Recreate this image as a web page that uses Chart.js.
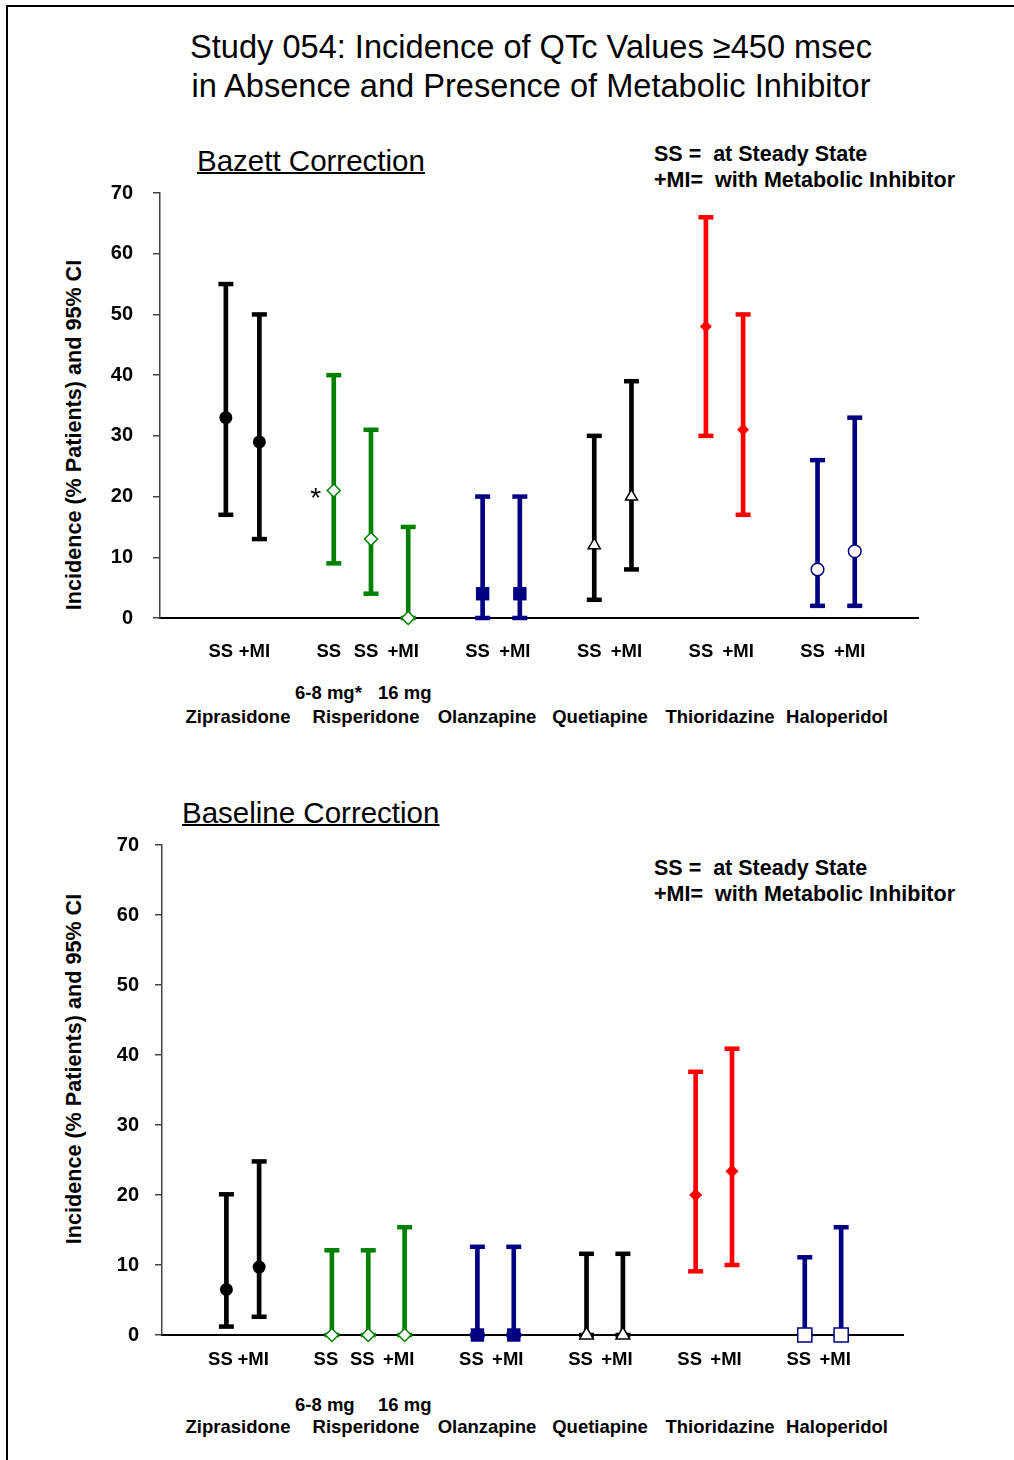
<!DOCTYPE html>
<html lang="en">
<head>
<meta charset="UTF-8">
<title>Study 054: Incidence of QTc Values ≥450 msec</title>
<script src="https://cdn.jsdelivr.net/npm/chart.js"></script>
<style>
  html, body { margin: 0; padding: 0; background: #fff; }
  body { font-family: 'Liberation Sans', Arial, sans-serif; color: #000; }
  .page { position: relative; width: 1014px; height: 1460px; overflow: hidden; }
  .frame { position: absolute; left: 6px; top: 5px; width: 1010px; height: 1460px;
           border-left: 2px solid #000; border-top: 2px solid #000; }
  .txt { position: absolute; line-height: 1; white-space: nowrap; }
  .title { font-size: 32.6px; left: 531px; transform: translateX(-50%); }
  .heading { font-size: 29.5px; text-decoration: underline; text-decoration-thickness: 2px; }
  .note { font-size: 21.5px; font-weight: bold; left: 654px; }
  .ytitle { font-size: 21.6px; font-weight: bold; left: 74px;
            transform: translate(-50%, -50%) rotate(-90deg); }
  .dose, .drug { font-size: 18.5px; font-weight: bold; }
  .drug { transform: translateX(-50%); }
  canvas { position: absolute; left: 0; }
</style>
</head>
<body>
<div class="page">
  <div class="frame"></div>

  <div class="txt title" style="top:31px">Study 054: Incidence of QTc Values ≥450 msec</div>
  <div class="txt title" style="top:70px">in Absence and Presence of Metabolic Inhibitor</div>

  <!-- Bazett panel -->
  <div class="txt heading" style="left:197px; top:146px">Bazett Correction</div>
  <div class="txt note" style="top:144px">SS =&nbsp; at Steady State</div>
  <div class="txt note" style="top:170px">+MI=&nbsp; with Metabolic Inhibitor</div>
  <div class="txt ytitle" style="top:435px">Incidence (% Patients) and 95% CI</div>
  <canvas id="bazett-chart" width="1014" height="500" style="top:170px"></canvas>
  <div class="txt dose" style="left:295px; top:684px">6-8 mg*</div>
  <div class="txt dose" style="left:378px; top:684px">16 mg</div>
  <div id="names-top"></div>

  <!-- Baseline panel -->
  <div class="txt heading" style="left:182px; top:798px">Baseline Correction</div>
  <div class="txt note" style="top:858px">SS =&nbsp; at Steady State</div>
  <div class="txt note" style="top:884px">+MI=&nbsp; with Metabolic Inhibitor</div>
  <div class="txt ytitle" style="top:1069px">Incidence (% Patients) and 95% CI</div>
  <canvas id="baseline-chart" width="1014" height="560" style="top:820px"></canvas>
  <div class="txt dose" style="left:295px; top:1396px">6-8 mg</div>
  <div class="txt dose" style="left:378px; top:1396px">16 mg</div>
  <div id="names-bottom"></div>
</div>

<script>
    // drugs and the slot (x position, in axis units) of each interval
    const drugs = ['Ziprasidone', 'Risperidone', 'Olanzapine', 'Quetiapine', 'Thioridazine', 'Haloperidol'];
    const slotDrug = [0, 0, 1, 1, 1, 2, 2, 3, 3, 4, 4, 5, 5];
    const slotLabels = ['SS', '+MI', 'SS', 'SS', '+MI', 'SS', '+MI', 'SS', '+MI', 'SS', '+MI', 'SS', '+MI'];
    const slots = [1.1, 2, 4, 5, 6, 8, 9, 11, 12, 14, 15, 17, 18];
    const yTicks = [0, 10, 20, 30, 40, 50, 60, 70];

    // Bazett correction: incidence (%) and 95% CI
    const bazettMid  = [33, 29, 21, 13, 0, 4, 4, 12, 20, 48, 31, 8, 11];
    const bazettLow  = [17, 13, 9, 4, 0, 0, 0, 3, 8, 30, 17, 2, 2];
    const bazettHigh = [55, 50, 40, 31, 15, 20, 20, 30, 39, 66, 50, 26, 33];

    // Baseline correction
    const baselineMid  = [6.5, 9.7, 0, 0, 0, 0, 0, 0, 0, 20, 23.4, 0, 0];
    const baselineLow  = [1.2, 2.6, 0, 0, 0, 0, 0, 0, 0, 9.1, 10, 0, 0];
    const baselineHigh = [20.1, 24.8, 12.1, 12.1, 15.4, 12.6, 12.6, 11.6, 11.6, 37.6, 40.9, 11.1, 15.4];

    const drugColors = ['#000000', '#008000', '#000080', '#000000', '#ff0000', '#000080'];

    const markersTop = [
        { style: 'circle', r: 6.5, fill: true },
        { style: 'rectRot', r: 6.5, fill: false },
        { style: 'rect', r: 9.5, fill: true },
        { style: 'triangle', r: 7, fill: false },
        { style: 'rectRot', r: 6, fill: true },
        { style: 'circle', r: 6.3, fill: false }
    ];
    const markersBottom = [
        { style: 'circle', r: 6.5, fill: true },
        { style: 'rectRot', r: 6.5, fill: false },
        { style: 'rect', r: 9.5, fill: true },
        { style: 'triangle', r: 8, fill: false },
        { style: 'rectRot', r: 6.5, fill: true },
        { style: 'rect', r: 10, fill: false }
    ];

    Chart.defaults.font.family = "'Liberation Sans', Arial, sans-serif";
    Chart.defaults.color = '#000';

    // the "*" next to the 6-8 mg risperidone point
    const asteriskPlugin = {
        id: 'asterisk',
        afterDatasetsDraw(chart, args, opts) {
            if (opts.index === undefined) return;
            const pt = chart.getDatasetMeta(0).data[opts.index];
            const ctx = chart.ctx;
            ctx.save();
            ctx.font = "28px 'Liberation Sans', Arial, sans-serif";
            ctx.fillStyle = '#000';
            ctx.textAlign = 'center';
            ctx.fillText('*', pt.x - 18, pt.y + 16);
            ctx.restore();
        }
    };

    function makeChart(id, mid, low, high, markers, box) {
        const canvas = document.getElementById(id);
        const W = canvas.width, H = canvas.height;
        const colors = slotDrug.map(d => drugColors[d]);
        const mk = slotDrug.map(d => markers[d]);

        return new Chart(canvas, {
            type: 'scatter',
            data: {
                datasets: [
                    {
                        // point estimates
                        order: 0,
                        clip: false,
                        data: slots.map((x, i) => ({ x: x, y: mid[i] })),
                        pointStyle: mk.map(m => m.style),
                        pointRadius: mk.map(m => m.r),
                        backgroundColor: mk.map((m, i) => m.fill ? colors[i] : '#ffffff'),
                        borderColor: colors,
                        borderWidth: mk.map(m => m.fill ? 0 : 1.5)
                    },
                    {
                        // caps of the CI
                        order: 1,
                        clip: false,
                        data: slots.map((x, i) => ({ x: x, y: high[i] }))
                              .concat(slots.map((x, i) => ({ x: x, y: low[i] }))),
                        pointStyle: 'line',
                        pointRadius: 7.5,
                        borderColor: colors.concat(colors),
                        borderWidth: 4.5
                    },
                    {
                        // CI stem
                        type: 'bar',
                        order: 2,
                        clip: false,
                        data: slots.map((x, i) => ({ x: x, y: [low[i], high[i]] })),
                        backgroundColor: colors,
                        borderWidth: 0,
                        barThickness: 4
                    }
                ]
            },
            plugins: [asteriskPlugin],
            options: {
                responsive: false,
                animation: false,
                events: [],
                layout: { padding: { left: 0, top: box.top, right: W - box.right, bottom: 0 } },
                plugins: {
                    legend: { display: false },
                    tooltip: { enabled: false },
                    asterisk: box.asterisk === undefined ? {} : { index: box.asterisk }
                },
                scales: {
                    x: {
                        type: 'linear',
                        min: -0.67,
                        max: 19.7,
                        offset: false,
                        afterFit: s => { s.height = H - box.bottom; s.paddingLeft = 0; s.paddingRight = 0; },
                        afterBuildTicks: s => { s.ticks = slots.map(v => ({ value: v })); },
                        grid: { display: false },
                        border: { display: true, color: '#000', width: 2 },
                        ticks: {
                            autoSkip: false,
                            maxRotation: 0,
                            minRotation: 0,
                            padding: box.xPad,
                            labelOffset: box.xShift,
                            font: { size: 18.5, weight: 'bold' },
                            callback: (v, i) => slotLabels[i]
                        }
                    },
                    y: {
                        min: 0,
                        max: 70,
                        afterFit: s => { s.width = box.left; s.paddingTop = 0; s.paddingBottom = 0; },
                        afterBuildTicks: s => { s.ticks = yTicks.map(v => ({ value: v })); },
                        grid: { display: true, drawOnChartArea: false, drawTicks: true,
                                tickLength: 7, color: '#444', lineWidth: 1.5 },
                        border: { display: true, color: '#444', width: 1.5 },
                        ticks: {
                            padding: box.yPad,
                            font: { size: 20, weight: 'bold' }
                        }
                    }
                }
            }
        });
    }

    makeChart('bazett-chart', bazettMid, bazettLow, bazettHigh, markersTop,
              { left: 160, right: 918, top: 23, bottom: 448, xPad: 15, xShift: -5, yPad: 20, asterisk: 2 });
    makeChart('baseline-chart', baselineMid, baselineLow, baselineHigh, markersBottom,
              { left: 162, right: 903, top: 25, bottom: 515, xPad: 6, xShift: -6, yPad: 16 });

    // drug names under each group
    const nameCenters = [238, 366, 487, 600, 720, 837];
    function addNames(holderId, top) {
        const holder = document.getElementById(holderId);
        drugs.forEach((name, i) => {
            const el = document.createElement('div');
            el.className = 'txt drug';
            el.style.left = nameCenters[i] + 'px';
            el.style.top = top + 'px';
            el.textContent = name;
            holder.appendChild(el);
        });
    }
    addNames('names-top', 708);
    addNames('names-bottom', 1418);
</script>
</body>
</html>
